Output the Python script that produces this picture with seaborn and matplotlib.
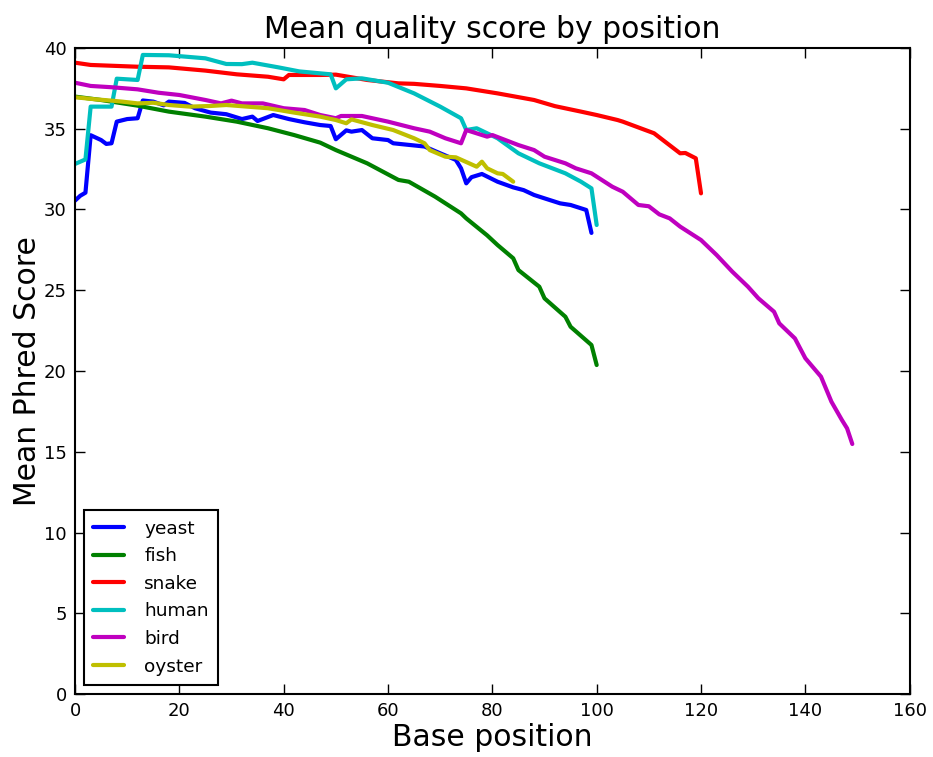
import numpy as np
import pandas as pd
import matplotlib
matplotlib.use("Agg")
import matplotlib.pyplot as plt
import seaborn as sns

# ---- data ----
yeast_x = [0, 1, 2, 3, 5, 6, 7, 8, 10, 12, 13, 15, 17, 18, 21, 23, 26, 29, 32, 34, 35, 38, 41, 44, 47, 49,
           50, 52, 53, 55, 57, 60, 61, 64, 67, 70, 73, 74, 75, 76, 78, 81, 84, 86, 88, 90, 93, 95, 98, 99]
yeast_y = [30.55, 30.85, 31.04, 34.6, 34.3, 34.06, 34.1, 35.44, 35.6, 35.65, 36.75, 36.68, 36.45, 36.68, 36.6,
           36.27, 36.0, 35.9, 35.6, 35.75, 35.48, 35.85, 35.6, 35.4, 35.23, 35.17, 34.35, 34.9, 34.82, 34.92,
           34.41, 34.3, 34.1, 34.0, 33.9, 33.48, 33.07, 32.55, 31.62, 32.0, 32.2, 31.72, 31.37, 31.2, 30.9,
           30.69, 30.38, 30.28, 29.97, 28.55]

fish_x = [0, 5, 12, 18, 25, 31, 37, 42, 47, 50, 56, 62, 64, 69, 74, 75, 79, 81, 84, 85, 89, 90, 94, 95, 99, 100]
fish_y = [36.99, 36.78, 36.43, 36.06, 35.75, 35.44, 35.03, 34.61, 34.14, 33.68, 32.86, 31.83, 31.72, 30.8,
          29.76, 29.45, 28.4, 27.8, 26.98, 26.25, 25.22, 24.5, 23.36, 22.74, 21.61, 20.37]

snake_x = [0, 3, 12, 18, 25, 31, 37, 40, 41, 43, 47, 50, 56, 62, 65, 70, 75, 81, 88, 92, 97, 100, 104, 105,
           111, 116, 117, 119, 120]
snake_y = [39.09, 38.95, 38.84, 38.8, 38.6, 38.37, 38.22, 38.06, 38.33, 38.33, 38.33, 38.35, 38.02, 37.81,
           37.78, 37.65, 37.5, 37.19, 36.78, 36.4, 36.06, 35.85, 35.54, 35.44, 34.72, 33.48, 33.5, 33.17, 31.0]

human_x = [0, 2, 3, 7, 8, 12, 13, 18, 25, 29, 32, 34, 39, 43, 47, 49, 50, 52, 55, 60, 65, 70, 74, 75, 77,
           81, 85, 89, 94, 97, 99, 100]
human_y = [32.82, 33.1, 36.37, 36.37, 38.1, 38.02, 39.57, 39.55, 39.36, 39.01, 39.0, 39.09, 38.8, 38.55,
           38.43, 38.37, 37.5, 38.06, 38.12, 37.85, 37.19, 36.37, 35.65, 34.92, 35.03, 34.41, 33.48, 32.86,
           32.24, 31.72, 31.31, 29.04]

bird_x = [0, 3, 7, 12, 16, 20, 25, 28, 30, 32, 36, 40, 44, 47, 50, 51, 55, 60, 65, 68, 71, 74, 75, 79, 80,
          85, 88, 90, 94, 96, 99, 103, 105, 108, 110, 112, 114, 116, 120, 123, 126, 129, 131, 134, 135, 138,
          140, 143, 145, 147, 148, 149]
bird_y = [37.85, 37.65, 37.57, 37.44, 37.23, 37.09, 36.78, 36.57, 36.74, 36.57, 36.57, 36.27, 36.16, 35.85,
          35.65, 35.79, 35.79, 35.44, 35.03, 34.82, 34.41, 34.1, 34.92, 34.51, 34.61, 33.99, 33.68, 33.27,
          32.86, 32.55, 32.24, 31.41, 31.1, 30.28, 30.2, 29.7, 29.45, 28.94, 28.11, 27.18, 26.15, 25.22,
          24.5, 23.67, 22.95, 22.02, 20.79, 19.65, 18.1, 16.97, 16.45, 15.48]

oyster_x = [0, 4, 7, 9, 12, 15, 18, 22, 26, 29, 33, 37, 42, 47, 50, 52, 53, 57, 61, 65, 67, 68, 71, 73, 77,
            78, 79, 81, 82, 84]
oyster_y = [36.95, 36.82, 36.74, 36.68, 36.57, 36.61, 36.47, 36.37, 36.41, 36.47, 36.37, 36.27, 36.0, 35.75,
            35.54, 35.34, 35.58, 35.23, 34.92, 34.41, 34.1, 33.68, 33.27, 33.23, 32.65, 32.96, 32.55, 32.24,
            32.2, 31.72]

species = ["yeast", "fish", "snake", "human", "bird", "oyster"]
colors = ["#0000ff", "#008000", "#ff0000", "#00bfbf", "#bf00bf", "#bfbf00"]
x_ticks = [0, 20, 40, 60, 80, 100, 120, 140, 160]
y_ticks = [0, 5, 10, 15, 20, 25, 30, 35, 40]

series = {
    "yeast": (yeast_x, yeast_y),
    "fish": (fish_x, fish_y),
    "snake": (snake_x, snake_y),
    "human": (human_x, human_y),
    "bird": (bird_x, bird_y),
    "oyster": (oyster_x, oyster_y),
}
frames = [pd.DataFrame({"pos": xs, "score": ys, "species": name}) for name, (xs, ys) in series.items()]
df = pd.concat(frames, ignore_index=True)

# ---- style ----
sns.set_style("white")
plt.rcParams.update({
    "font.family": ["DejaVu Sans"],
    "text.color": "black",
    "axes.labelcolor": "black",
    "xtick.labelcolor": "black",
    "ytick.labelcolor": "black",
    "xtick.direction": "in",
    "ytick.direction": "in",
    "xtick.top": True,
    "ytick.right": True,
    "xtick.bottom": True,
    "ytick.left": True,
    "xtick.major.size": 7,
    "ytick.major.size": 7,
    "xtick.major.width": 1.0,
    "ytick.major.width": 1.0,
    "xtick.color": "black",
    "ytick.color": "black",
    "axes.edgecolor": "black",
    "axes.linewidth": 1.5,
})

fig = plt.figure(figsize=(9.33, 7.57), dpi=100)
ax = fig.add_axes([0.0804, 0.0832, 0.8946, 0.8534])

sns.lineplot(data=df, x="pos", y="score", hue="species", hue_order=species,
             palette=dict(zip(species, colors)), estimator=None, sort=False,
             linewidth=3, ax=ax)

ax.set_xlim(0, 160)
ax.set_ylim(0, 40)
ax.set_xticks(x_ticks)
ax.set_yticks(y_ticks)
ax.tick_params(labelsize=13, pad=6, colors="black")
ax.set_title("Mean quality score by position", fontsize=21.5, pad=7, color="black")
ax.set_xlabel("Base position", fontsize=21.5, labelpad=2, color="black")
ax.set_ylabel("Mean Phred Score", fontsize=21.5, labelpad=1, color="black")
for s in ax.spines.values():
    s.set_visible(True)
    s.set_color("black")

leg = ax.legend(loc="lower left", fontsize=13.3, frameon=True, fancybox=False, framealpha=1,
                edgecolor="black", handlelength=1.65, borderpad=0.5, labelspacing=0.52,
                handletextpad=1.1, borderaxespad=0.5)
leg.get_frame().set_linewidth(1.5)
for line in leg.get_lines():
    line.set_linewidth(3)
for t in leg.get_texts():
    t.set_color("black")

fig.savefig("out.png", dpi=100)
